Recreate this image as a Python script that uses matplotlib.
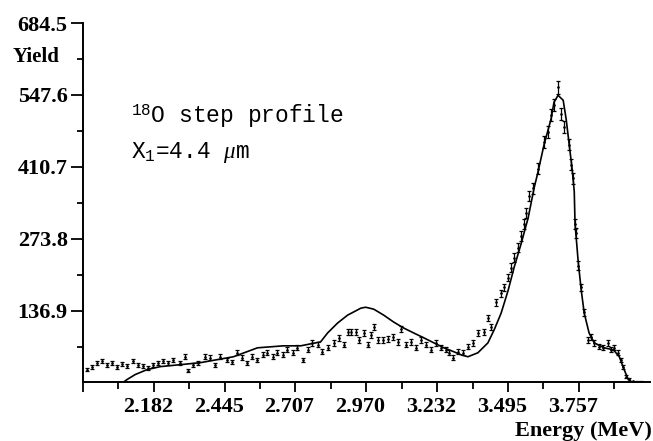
import numpy as np
import matplotlib
matplotlib.use('Agg')
import matplotlib.pyplot as plt
import matplotlib.transforms as mtransforms

# ---------------- 数据 ----------------
# 实验点 (能量 MeV, 产额)
e_data = [1.934, 1.953, 1.972, 1.990, 2.009, 2.027, 2.046, 2.064, 2.083, 2.105,
          2.124, 2.142, 2.161, 2.180, 2.198, 2.217, 2.235, 2.254, 2.280, 2.298,
          2.310, 2.328, 2.347, 2.373, 2.391, 2.410, 2.428, 2.454, 2.473, 2.492,
          2.510, 2.529, 2.547, 2.566, 2.585, 2.603, 2.622, 2.640, 2.659, 2.677,
          2.696, 2.714, 2.733, 2.752, 2.770, 2.789, 2.807, 2.826, 2.848, 2.867,
          2.885, 2.900, 2.911, 2.930, 2.941, 2.960, 2.975, 2.986, 2.997, 3.012,
          3.030, 3.049, 3.067, 3.086, 3.097, 3.116, 3.134, 3.153, 3.171, 3.190,
          3.209, 3.227, 3.246, 3.264, 3.275, 3.290, 3.309, 3.327, 3.346, 3.365,
          3.383, 3.405, 3.420, 3.431, 3.450, 3.469, 3.480, 3.495, 3.506, 3.517,
          3.532, 3.543, 3.554, 3.561, 3.573, 3.587, 3.606, 3.628, 3.643, 3.654,
          3.665, 3.680, 3.691, 3.703, 3.721, 3.729, 3.736, 3.743, 3.747, 3.755,
          3.766, 3.777, 3.792, 3.803, 3.814, 3.833, 3.847, 3.866, 3.877, 3.888,
          3.903, 3.914, 3.922, 3.933, 3.944, 3.959, 3.974, 3.988]
y_data = [24.5, 30.2, 37.7, 41.5, 33.9, 37.7, 30.2, 35.8, 32.1, 41.5,
          33.9, 32.1, 28.3, 33.9, 37.7, 41.5, 37.7, 43.4, 37.7, 49.0,
          22.6, 33.9, 37.7, 49.0, 47.2, 33.9, 49.0, 43.4, 39.6, 56.6,
          47.2, 37.7, 49.0, 43.4, 52.8, 56.6, 49.0, 56.6, 52.8, 62.2,
          56.6, 66.0, 43.4, 62.2, 75.4, 71.7, 58.5, 66.0, 75.4, 84.9,
          71.7, 96.2, 96.2, 96.2, 81.1, 94.3, 71.7, 90.5, 105.6, 81.1,
          81.1, 83.0, 86.8, 77.3, 101.8, 71.7, 77.3, 66.0, 81.1, 71.7,
          62.2, 75.4, 66.0, 62.2, 56.6, 47.2, 58.5, 56.6, 67.9, 75.4,
          94.3, 96.2, 122.6, 105.6, 152.8, 169.7, 181.1, 199.9, 218.8, 237.6,
          256.5, 279.1, 301.8, 322.5, 354.6, 369.7, 407.4, 458.3, 477.2, 509.2,
          528.1, 562.0, 511.1, 486.6, 452.6, 414.9, 388.5, 301.8, 284.8, 222.5,
          181.1, 133.9, 81.1, 86.8, 75.4, 67.9, 66.0, 75.4, 62.2, 66.0,
          56.6, 43.4, 30.2, 11.3, 5.7, 1.9, 1.0, 1.0]

# 拟合曲线
e_fit = [2.068, 2.083, 2.113, 2.157, 2.206, 2.280, 2.354, 2.477, 2.566, 2.662,
         2.726, 2.800, 2.826, 2.863, 2.900, 2.949, 2.967, 2.997, 3.034, 3.071,
         3.108, 3.145, 3.183, 3.220, 3.257, 3.294, 3.320, 3.346, 3.383, 3.420,
         3.443, 3.469, 3.495, 3.517, 3.543, 3.569, 3.591, 3.606, 3.628, 3.654,
         3.665, 3.680, 3.699, 3.710, 3.721, 3.732, 3.740, 3.743, 3.755, 3.766,
         3.777, 3.795, 3.814, 3.851, 3.885, 3.907, 3.925, 3.940, 3.951]
y_fit = [0.0, 5.7, 15.1, 24.5, 30.2, 33.9, 37.7, 49.0, 66.0, 69.8,
         69.8, 77.3, 94.3, 113.2, 128.2, 141.5, 143.3, 139.6, 128.2, 115.0,
         103.7, 94.3, 84.9, 75.4, 66.0, 58.5, 52.8, 49.0, 56.6, 75.4,
         100.0, 132.0, 175.4, 218.8, 264.0, 313.1, 369.7, 401.7, 452.6, 501.7,
         533.7, 546.9, 537.5, 501.7, 454.5, 407.4, 364.0, 301.8, 228.2, 175.4,
         132.0, 94.3, 75.4, 66.0, 62.2, 49.0, 24.5, 5.7, 1.9]

y_major = [136.9, 273.8, 410.7, 547.6, 684.5]
y_minor = [68.45, 205.35, 342.25, 479.15, 616.05]
y_labels = ['136.9', '273.8', '410.7', '547.6', '684.5']
x_major = [1.9195, 2.182, 2.445, 2.707, 2.970, 3.232, 3.495, 3.757]
x_minor = [2.051, 2.313, 2.576, 2.838, 3.101, 3.363, 3.626, 3.888]
x_labels = ['', '2.182', '2.445', '2.707', '2.970', '3.232', '3.495', '3.757']

# ---------------- 画图 ----------------
plt.rcParams['font.family'] = ['Liberation Serif', 'DejaVu Serif']
plt.rcParams['mathtext.fontset'] = 'custom'
plt.rcParams['mathtext.rm'] = 'Liberation Mono'
plt.rcParams['mathtext.it'] = 'Liberation Serif:italic'

fig = plt.figure(figsize=(6.53, 4.41), dpi=100)
ax = fig.add_axes([0.1271, 0.1327, 0.868, 0.815])

err = 0.45 * np.sqrt(np.array(y_data)) + 1.2
ax.errorbar(e_data, y_data, yerr=err, fmt='.', ms=1.8, color='black',
            ecolor='black', elinewidth=0.9, capsize=1.4, capthick=0.9)
ax.plot(e_fit, y_fit, color='black', lw=1.2)

ax.set_xlim(1.9195, 4.02)
ax.set_ylim(0, 684.5)

for s in ['top', 'right']:
    ax.spines[s].set_visible(False)
ax.spines['left'].set_linewidth(1.4)
ax.spines['bottom'].set_linewidth(1.4)

ax.set_yticks(y_major)
ax.set_yticks(y_minor, minor=True)
ax.set_yticklabels(y_labels)
ax.set_xticks(x_major)
ax.set_xticks(x_minor, minor=True)
ax.set_xticklabels(x_labels)

ax.tick_params(axis='y', which='major', length=9, width=1.3, pad=2, labelsize=16)
ax.tick_params(axis='y', which='minor', length=4, width=1.3)
ax.tick_params(axis='x', which='major', length=7.5, width=1.3, pad=3, labelsize=16)
ax.tick_params(axis='x', which='minor', length=5, width=1.3)
for lbl in ax.get_xticklabels() + ax.get_yticklabels():
    lbl.set_fontweight('bold')

# 横轴标签略微左移
shift = mtransforms.ScaledTranslation(-6 / 100, 0, fig.dpi_scale_trans)
for lbl in ax.get_xticklabels():
    lbl.set_transform(lbl.get_transform() + shift)

fig.text(0.020, 0.870, 'Yield', fontsize=15, fontweight='bold', va='center', ha='left')
fig.text(0.999, 0.011, 'Energy (MeV)', fontsize=16, fontweight='bold', va='baseline', ha='right')

ax.text(0.085, 0.722, r'$^{18}$O step profile', transform=ax.transAxes,
        family='Liberation Mono', fontsize=16.5, va='baseline')
ax.text(0.085, 0.624, r'X$_1$=4.4 $\mu$m', transform=ax.transAxes,
        family='Liberation Mono', fontsize=16.5, va='baseline')

fig.savefig('out.png', dpi=100)
